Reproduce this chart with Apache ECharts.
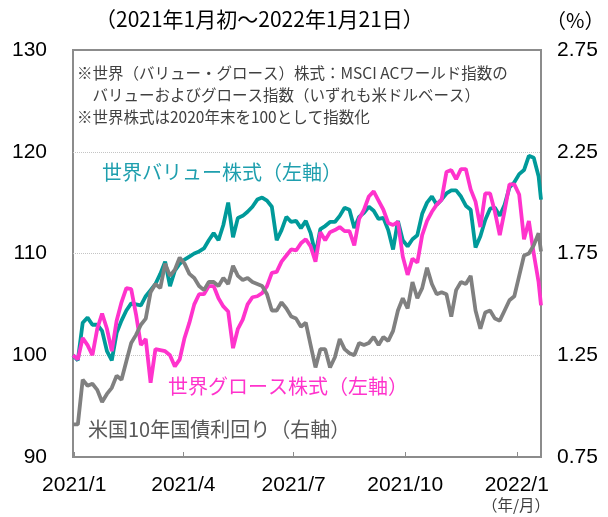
<!DOCTYPE html>
<html>
<head>
<meta charset="utf-8">
<script src="https://cdn.jsdelivr.net/npm/echarts@6/dist/echarts.min.js"></script>
<style>
    html, body { margin: 0; padding: 0; background: #fff; }
    #main { width: 608px; height: 517px; }
</style>
</head>
<body>
<div id="main"></div>
<script>
// 4日刻みの日付（最後は2022/1/21）
var dates = [
    '2020-12-31','2021-01-04','2021-01-08','2021-01-12','2021-01-16','2021-01-20','2021-01-24','2021-01-28',
    '2021-02-01','2021-02-05','2021-02-09','2021-02-13','2021-02-17','2021-02-21','2021-02-25',
    '2021-03-01','2021-03-05','2021-03-09','2021-03-13','2021-03-17','2021-03-21','2021-03-25','2021-03-29',
    '2021-04-02','2021-04-06','2021-04-10','2021-04-14','2021-04-18','2021-04-22','2021-04-26','2021-04-30',
    '2021-05-04','2021-05-08','2021-05-12','2021-05-16','2021-05-20','2021-05-24','2021-05-28',
    '2021-06-01','2021-06-05','2021-06-09','2021-06-13','2021-06-17','2021-06-21','2021-06-25','2021-06-29',
    '2021-07-03','2021-07-07','2021-07-11','2021-07-15','2021-07-19','2021-07-23','2021-07-27','2021-07-31',
    '2021-08-04','2021-08-08','2021-08-12','2021-08-16','2021-08-20','2021-08-24','2021-08-28',
    '2021-09-01','2021-09-05','2021-09-09','2021-09-13','2021-09-17','2021-09-21','2021-09-25','2021-09-29',
    '2021-10-03','2021-10-07','2021-10-11','2021-10-15','2021-10-19','2021-10-23','2021-10-27','2021-10-31',
    '2021-11-04','2021-11-08','2021-11-12','2021-11-16','2021-11-20','2021-11-24','2021-11-28',
    '2021-12-02','2021-12-06','2021-12-10','2021-12-14','2021-12-18','2021-12-22','2021-12-26','2021-12-30',
    '2022-01-03','2022-01-07','2022-01-11','2022-01-15','2022-01-19','2022-01-21'
];

// 世界バリュー株式（左軸）
var valueIdx = [
    100.0, 99.5, 103.2, 103.7, 103.0, 103.0, 102.4, 100.4,
    99.5, 102.2, 103.4, 104.4, 105.1, 105.0, 104.9,
    105.8, 106.4, 107.0, 108.0, 109.2, 106.8, 108.3, 109.0,
    109.4, 109.7, 110.0, 110.2, 110.5, 111.3, 112.0, 111.3,
    112.8, 115.0, 111.6, 113.5, 113.7, 114.1, 114.6,
    115.3, 115.5, 115.2, 114.6, 111.3, 112.3, 113.6, 113.1,
    113.2, 112.5, 113.2, 112.0, 109.9, 112.4, 112.7, 113.1,
    113.1, 113.7, 114.5, 114.3, 112.5, 113.6, 114.0,
    114.6, 114.2, 113.4, 113.5, 112.3, 110.4, 113.2, 111.3,
    110.7, 111.4, 111.8, 113.9, 115.0, 115.6, 114.8, 115.3,
    115.9, 116.2, 116.2, 115.6, 114.7, 114.3, 110.6,
    111.7, 113.3, 114.4, 114.5, 113.7, 114.8, 116.5, 117.0,
    117.8, 118.2, 119.6, 119.4, 117.6, 115.3
];

// 世界グロース株式（左軸）
var growthIdx = [
    100.0, 99.6, 101.7, 101.0, 100.0, 102.6, 104.1, 102.6,
    100.4, 103.4, 105.2, 106.6, 106.5, 104.0, 101.0,
    101.6, 97.3, 100.6, 100.5, 100.4, 100.0, 98.9, 99.6,
    101.7, 103.2, 105.0, 106.0, 106.0, 106.8, 106.8, 105.6,
    104.8, 104.3, 100.7, 102.6, 103.5, 105.0, 105.7,
    105.8, 106.1, 106.8, 108.1, 108.2, 109.2, 109.8, 110.4,
    110.3, 111.0, 111.4, 110.7, 109.2, 112.1, 111.3, 112.1,
    112.3, 112.6, 112.2, 112.2, 110.8, 113.4, 114.3,
    115.6, 116.1, 115.2, 114.3, 113.0, 112.8, 113.1, 109.7,
    107.9, 109.5, 109.1, 111.8, 113.2, 114.1, 114.8, 115.3,
    118.0, 118.2, 117.3, 118.3, 118.3, 116.3, 115.1,
    112.6, 115.9, 115.9, 114.1, 111.8, 114.2, 116.8, 116.8,
    115.8, 111.4, 113.2, 110.0, 107.2, 104.9
];

// 米国10年国債利回り（右軸、%）
var yield10y = [
    0.91, 0.91, 1.13, 1.10, 1.11, 1.08, 1.02, 1.06,
    1.09, 1.15, 1.13, 1.22, 1.31, 1.35, 1.40,
    1.43, 1.56, 1.60, 1.58, 1.70, 1.64, 1.67, 1.73,
    1.70, 1.65, 1.63, 1.59, 1.57, 1.61, 1.61, 1.59,
    1.63, 1.60, 1.69, 1.64, 1.62, 1.63, 1.61,
    1.60, 1.59, 1.55, 1.47, 1.47, 1.51, 1.48, 1.44,
    1.43, 1.39, 1.41, 1.30, 1.19, 1.28, 1.28, 1.19,
    1.24, 1.33, 1.28, 1.26, 1.25, 1.31, 1.30,
    1.31, 1.34, 1.30, 1.34, 1.32, 1.37, 1.47, 1.53,
    1.48, 1.61, 1.53, 1.58, 1.68, 1.60, 1.55, 1.56,
    1.55, 1.44, 1.57, 1.61, 1.60, 1.64, 1.47,
    1.38, 1.46, 1.47, 1.43, 1.42, 1.47, 1.52, 1.54,
    1.64, 1.74, 1.75, 1.79, 1.85, 1.76
];

var tickDates = ['2021-01-01', '2021-04-01', '2021-07-01', '2021-10-01', '2022-01-01'];
var leftTicks = [90, 100, 110, 120, 130];
var rightTicks = [0.75, 1.25, 1.75, 2.25, 2.75];

var fontNum = '"Liberation Sans", Arial, sans-serif';
var fontJp = '"Noto Sans CJK JP", sans-serif';

function toTime(d) {
    return echarts.time.parse(d).getTime();
}

function pairs(arr) {
    return arr.map(function (v, i) {
        return [toTime(dates[i]), v];
    });
}

var tickTimes = tickDates.map(toTime);

var myChart = echarts.init(document.getElementById('main'), null, { renderer: 'canvas' });

var option = {
    backgroundColor: '#ffffff',
    animation: false,
    grid: {
        left: 73,
        right: 67,
        top: 50,
        bottom: 60,
        show: true,
        borderColor: '#8c8c8c',
        borderWidth: 2
    },
    xAxis: {
        type: 'value',
        min: toTime(dates[0]),
        max: toTime(dates[dates.length - 1]),
        axisLine: { show: true, lineStyle: { color: '#8c8c8c', width: 2 } },
        axisTick: {
            show: true,
            inside: true,
            length: 5,
            customValues: tickTimes,
            lineStyle: { color: '#8c8c8c', width: 1 }
        },
        axisLabel: {
            customValues: tickTimes,
            margin: 18,
            color: '#000',
            fontSize: 21,
            fontFamily: fontNum,
            formatter: function (v) {
                var d = new Date(v);
                return d.getFullYear() + '/' + (d.getMonth() + 1);
            }
        },
        splitLine: { show: false }
    },
    yAxis: [
        {
            type: 'value',
            min: leftTicks[0],
            max: leftTicks[leftTicks.length - 1],
            interval: 10,
            axisLine: { show: false },
            axisTick: { show: false },
            axisLabel: {
                margin: 26,
                color: '#000',
                fontSize: 21,
                fontFamily: fontNum
            },
            splitLine: {
                show: true,
                showMinLine: false,
                showMaxLine: false,
                lineStyle: { color: '#c4c4c4', type: 'dotted', width: 1 }
            }
        },
        {
            type: 'value',
            min: rightTicks[0],
            max: rightTicks[rightTicks.length - 1],
            interval: 0.5,
            axisLine: { show: false },
            axisTick: { show: false },
            axisLabel: {
                margin: 16,
                color: '#000',
                fontSize: 21,
                fontFamily: fontNum,
                formatter: function (v) {
                    return v.toFixed(2);
                }
            },
            splitLine: { show: false }
        }
    ],
    series: [
        {
            name: '世界バリュー株式',
            type: 'line',
            yAxisIndex: 0,
            showSymbol: false,
            data: pairs(valueIdx),
            lineStyle: { color: '#009a9a', width: 3.8 },
            itemStyle: { color: '#009a9a' }
        },
        {
            name: '世界グロース株式',
            type: 'line',
            yAxisIndex: 0,
            showSymbol: false,
            data: pairs(growthIdx),
            lineStyle: { color: '#ff33cc', width: 3.8 },
            itemStyle: { color: '#ff33cc' }
        },
        {
            name: '米国10年国債利回り',
            type: 'line',
            yAxisIndex: 1,
            showSymbol: false,
            data: pairs(yield10y),
            lineStyle: { color: '#808080', width: 3.8 },
            itemStyle: { color: '#808080' }
        }
    ],
    graphic: [
        {
            type: 'text', left: 95, top: 9,
            style: { text: '（2021年1月初～2022年1月21日）', fontSize: 21, fontFamily: fontJp, fill: '#000' }
        },
        {
            type: 'text', left: 546, top: 10,
            style: { text: '（%）', fontSize: 20, fontFamily: fontJp, fill: '#000' }
        },
        {
            type: 'text', left: 77, top: 62,
            style: {
                text: '※世界（バリュー・グロース）株式：MSCI ACワールド指数の\n　バリューおよびグロース指数（いずれも米ドルベース）\n※世界株式は2020年末を100として指数化',
                fontSize: 15.5, lineHeight: 22, fontFamily: fontJp, fill: '#404040'
            }
        },
        {
            type: 'text', left: 102, top: 162,
            style: { text: '世界バリュー株式（左軸）', fontSize: 20, fontFamily: fontJp, fill: '#1f9fae' }
        },
        {
            type: 'text', left: 168, top: 376,
            style: { text: '世界グロース株式（左軸）', fontSize: 20, fontFamily: fontJp, fill: '#ff33cc' }
        },
        {
            type: 'text', left: 88, top: 419,
            style: { text: '米国10年国債利回り（右軸）', fontSize: 20, fontFamily: fontJp, fill: '#595959' }
        },
        {
            type: 'text', left: 482, top: 497,
            style: { text: '（年/月）', fontSize: 15.5, fontFamily: fontJp, fill: '#404040' }
        }
    ]
};

myChart.setOption(option);
window.onresize = function () {
    myChart.resize();
};
</script>
</body>
</html>
